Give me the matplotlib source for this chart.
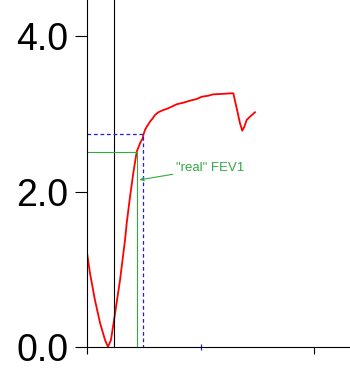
import numpy as np
import matplotlib
matplotlib.use("Agg")
import matplotlib.pyplot as plt

# spirometry curve (time in tick units, volume in L)
t = [0.0, 0.026, 0.070, 0.115, 0.159, 0.185, 0.211, 0.241, 0.290, 0.335, 0.350,
     0.379, 0.408, 0.438, 0.470, 0.491, 0.496, 0.511, 0.526, 0.540, 0.555,
     0.579, 0.599, 0.628, 0.672, 0.716, 0.746, 0.790, 0.848, 0.907, 0.967,
     1.011, 1.069, 1.113, 1.172, 1.275, 1.289, 1.319, 1.348, 1.368, 1.386,
     1.407, 1.436, 1.480]
vol = [1.213, 0.952, 0.605, 0.309, 0.090, 0.0, 0.09, 0.373, 0.85, 1.376, 1.595,
       1.933, 2.238, 2.512, 2.630, 2.684, 2.727, 2.791, 2.833, 2.864, 2.898,
       2.941, 2.984, 3.019, 3.048, 3.070, 3.091, 3.122, 3.142, 3.168, 3.190,
       3.219, 3.232, 3.250, 3.254, 3.263, 3.263, 3.070, 2.877, 2.782, 2.833,
       2.920, 2.962, 3.019]

t_zero = 0.241          # back extrapolated start
t_real, fev1_real = 0.443, 2.51
t_fev1, fev1 = 0.496, 2.736

yticks = [0.0, 2.0, 4.0]
yticklabels = ["0.0", "2.0", "4.0"]

fig = plt.figure(figsize=(3.5, 3.9), dpi=100)
ax = fig.add_axes([87/350, 43/390, 263/350, 347/390])

ax.plot(t, vol, color='red', lw=1.3)
ax.axvline(t_zero, color='black', lw=0.8)
ax.plot([0, t_real, t_real], [fev1_real, fev1_real, 0], color='#33aa44', lw=0.8)
ax.plot([0, t_fev1, t_fev1], [fev1, fev1, 0], color='#1f1fe0', lw=0.9, ls=(0, (3, 2.2)))

ax.annotate('"real" FEV1', xy=(t_real + 0.02, 2.15), xytext=(0.78, 2.3),
            color='#33aa44', fontsize=9.5, family='Liberation Sans', va='center',
            arrowprops=dict(arrowstyle='->', color='#33aa44', lw=0.8,
                            shrinkA=0, shrinkB=0, mutation_scale=6))

ax.set_xlim(0, 263/113.5)
ax.set_ylim(0, 347/77.75)
ax.spines['top'].set_visible(False)
ax.spines['right'].set_visible(False)
ax.spines['left'].set_linewidth(0.8)
ax.spines['bottom'].set_linewidth(0.8)

ax.set_xticks([0, 2])
ax.set_xticklabels([])
ax.set_xticks([1], minor=True)
ax.tick_params(axis='x', which='major', direction='out', length=5, width=0.8)
ax.tick_params(axis='x', which='minor', direction='inout', length=5, width=0.9, color='#1f1fe0')

ax.set_yticks(yticks)
ax.set_yticklabels(yticklabels, fontsize=27, family='Liberation Sans')
ax.tick_params(axis='y', direction='out', length=8.5, width=0.8, pad=5)

fig.savefig('out.png', dpi=100)
